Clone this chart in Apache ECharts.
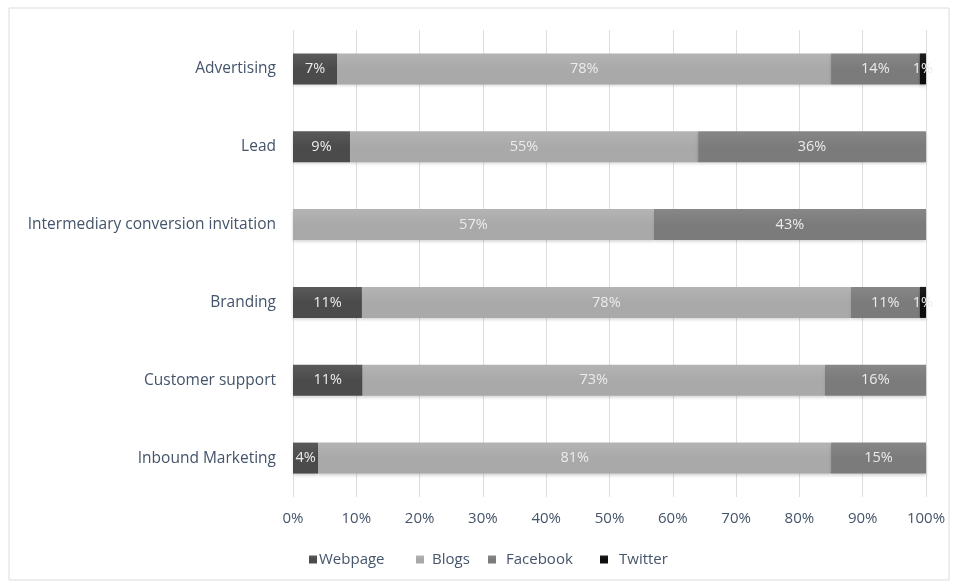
<!DOCTYPE html>
<html>
<head>
<meta charset="utf-8">
<script src="https://cdn.jsdelivr.net/npm/echarts@6/dist/echarts.min.js"></script>
<style>
  html, body { margin: 0; padding: 0; background: #ffffff; }
  #chart { width: 955px; height: 585px; }
</style>
</head>
<body>
<div id="chart"></div>
<script>
// Channel mix per content goal, in percent (top row first)
const categories = [
  'Advertising',
  'Lead',
  'Intermediary conversion invitation',
  'Branding',
  'Customer support',
  'Inbound Marketing'
];
const webpage  = [7, 9, 0, 11, 11, 4];
const blogs    = [78, 55, 57, 78, 73, 81];
const facebook = [14, 36, 43, 11, 16, 15];
const twitter  = [1, 0, 0, 1, 0, 0];
const seriesNames = ['Webpage', 'Blogs', 'Facebook', 'Twitter'];
const xTicks = [0, 10, 20, 30, 40, 50, 60, 70, 80, 90, 100];

const rows = [webpage, blogs, facebook, twitter];
const totals = categories.map((_, i) => rows.reduce((s, r) => s + r[i], 0));

// 100% stacked: each segment is scaled by its row total, labels keep the stated percentage
function share(arr) {
  return arr.map((v, i) => v / totals[i] * 100);
}

function shade(base, light) {
  return new echarts.graphic.LinearGradient(0, 0, 0, 1, [
    { offset: 0, color: light },
    { offset: 0.5, color: base },
    { offset: 1, color: base }
  ]);
}

const palette = [
  ['#4b4b4b', '#5a5a5a'],
  ['#a9a9a9', '#b4b4b4'],
  ['#7b7b7b', '#878787'],
  ['#0e0e0e', '#1e1e1e']
];

const chart = echarts.init(document.getElementById('chart'));

const series = rows.map((arr, k) => ({
  name: seriesNames[k],
  type: 'bar',
  stack: 'total',
  barWidth: 31,
  clip: false,
  data: share(arr),
  itemStyle: {
    color: shade(palette[k][0], palette[k][1]),
    shadowColor: 'rgba(0,0,0,0.18)',
    shadowBlur: 3,
    shadowOffsetY: 2
  },
  label: {
    show: true,
    position: 'inside',
    color: '#ececec',
    fontFamily: 'Open Sans',
    fontSize: 14.5,
    formatter: p => (arr[p.dataIndex] > 0 ? arr[p.dataIndex] + '%' : '')
  }
}));

// one legend entry per series, spaced like the source layout
const legendLeft = [309, 416, 488, 600];
const legendPad = [-3, 3, 5, 6];
const legends = seriesNames.map((name, k) => ({
  data: [name],
  left: legendLeft[k],
  top: 552,
  padding: 0,
  icon: 'rect',
  itemWidth: 8,
  itemHeight: 8,
  textStyle: {
    color: '#44546a',
    fontFamily: 'Open Sans',
    fontSize: 15,
    padding: [0, 0, 0, legendPad[k]]
  }
}));

chart.setOption({
  animation: false,
  backgroundColor: '#ffffff',
  color: palette.map(p => p[0]),
  graphic: [{
    type: 'rect',
    shape: { x: 9, y: 8, width: 940, height: 572 },
    style: { fill: 'none', stroke: '#dcdcdc', lineWidth: 1 },
    silent: true,
    z: -1
  }],
  grid: { left: 293, right: 29, top: 30, bottom: 88, containLabel: false },
  xAxis: {
    type: 'value',
    min: 0,
    max: 100,
    interval: 10,
    axisLine: { show: false },
    axisTick: { show: false },
    splitLine: { lineStyle: { color: '#dedede', width: 1 } },
    axisLabel: {
      color: '#44546a',
      fontFamily: 'Open Sans',
      fontSize: 15,
      margin: 14,
      formatter: v => (xTicks.includes(v) ? v + '%' : '')
    }
  },
  yAxis: {
    type: 'category',
    inverse: true,
    data: categories,
    axisLine: { show: false },
    axisTick: { show: false },
    axisLabel: {
      color: '#44546a',
      fontFamily: 'Open Sans',
      fontSize: 15.5,
      margin: 17
    }
  },
  legend: legends,
  series: series
});
</script>
</body>
</html>
